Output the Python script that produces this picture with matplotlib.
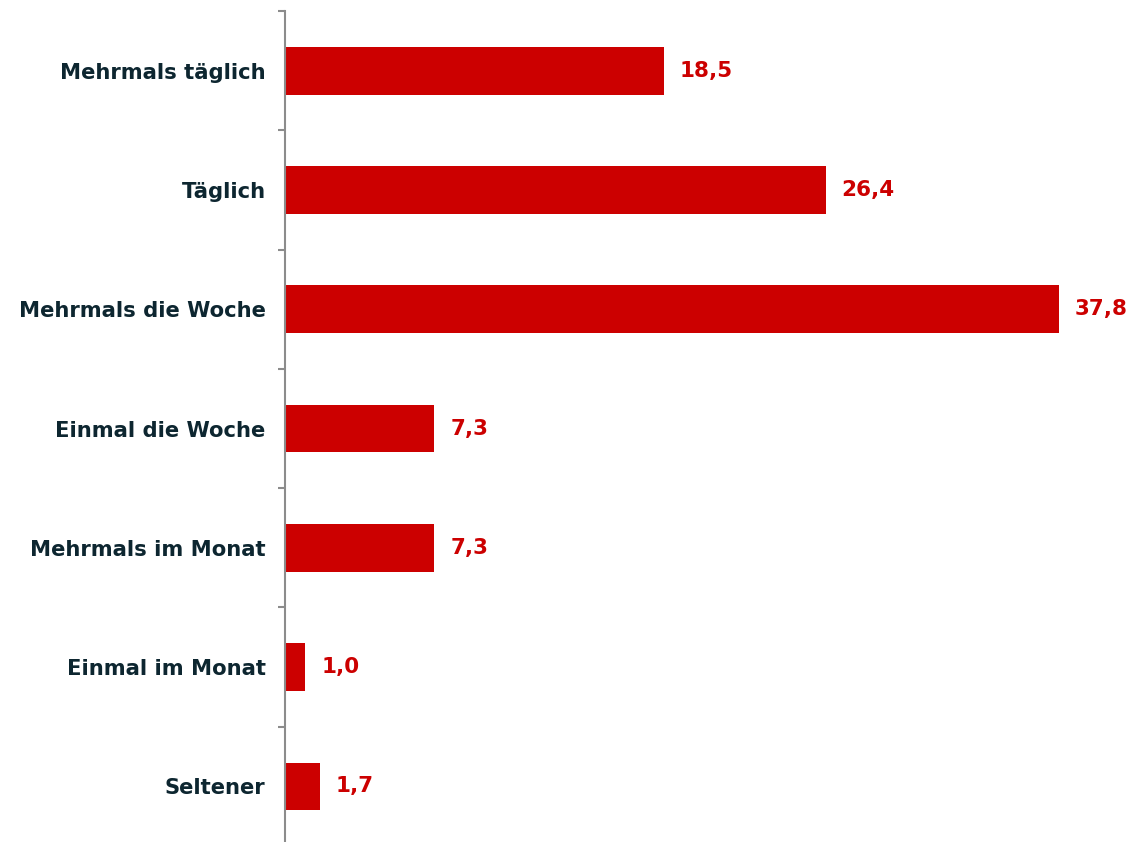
import matplotlib
matplotlib.use('Agg')
import matplotlib.pyplot as plt
import numpy as np

categories = ['Mehrmals täglich', 'Täglich', 'Mehrmals die Woche', 'Einmal die Woche',
              'Mehrmals im Monat', 'Einmal im Monat', 'Seltener']
values = [18.5, 26.4, 37.8, 7.3, 7.3, 1.0, 1.7]
value_labels = ['18,5', '26,4', '37,8', '7,3', '7,3', '1,0', '1,7']

red = '#CC0000'
dark = '#0D2630'
grey = '#8C8C8C'

fig = plt.figure(figsize=(11.43, 8.42), dpi=100)
ax = fig.add_axes([285 / 1143, -4 / 842, 1 - 285 / 1143, 835 / 842])

y = np.arange(len(categories))
ax.barh(y, values, height=0.4, color=red)

for yi, v, lab in zip(y, values, value_labels):
    ax.annotate(lab, (v, yi), xytext=(11.5, 0), textcoords='offset points',
                ha='left', va='center', color=red, fontsize=15.5, fontweight='bold')

ax.set_xlim(0, 41.9)
ax.set_ylim(len(categories) - 0.5, -0.5)

ax.set_yticks(y)
ax.set_yticklabels(categories, fontsize=15.2, fontweight='bold', color=dark)
ax.tick_params(axis='y', which='major', length=0, pad=14)
ax.set_yticks(np.arange(-0.5, len(categories) + 0.5, 1), minor=True)
ax.tick_params(axis='y', which='minor', length=5, width=1.5, color=grey, direction='out')
ax.set_xticks([])

for s in ['top', 'right', 'bottom']:
    ax.spines[s].set_visible(False)
ax.spines['left'].set_color(grey)
ax.spines['left'].set_linewidth(1.5)

fig.savefig('out.png', dpi=100)
